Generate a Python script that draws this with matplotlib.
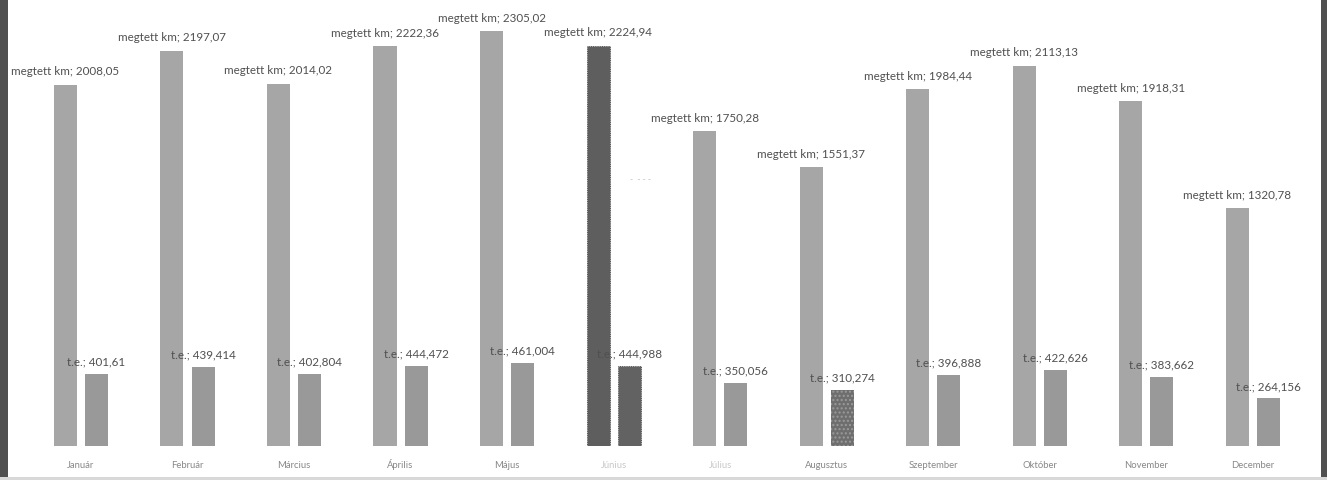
import matplotlib
matplotlib.use("Agg")
import matplotlib.pyplot as plt
from matplotlib.patches import Rectangle
import numpy as np

months = ["Január", "Február", "Március", "Április", "Május", "Június",
          "Július", "Augusztus", "Szeptember", "Október", "November", "December"]
km = [2008.05, 2197.07, 2014.02, 2222.36, 2305.02, 2224.94,
      1750.28, 1551.37, 1984.44, 2113.13, 1918.31, 1320.78]
te = [401.61, 439.414, 402.804, 444.472, 461.004, 444.988,
      350.056, 310.274, 396.888, 422.626, 383.662, 264.156]
km_labels = ["2008,05", "2197,07", "2014,02", "2222,36", "2305,02", "2224,94",
             "1750,28", "1551,37", "1984,44", "2113,13", "1918,31", "1320,78"]
te_labels = ["401,61", "439,414", "402,804", "444,472", "461,004", "444,988",
             "350,056", "310,274", "396,888", "422,626", "383,662", "264,156"]

plt.rcParams['font.family'] = ['Lato', 'DejaVu Sans']

W, H = 1327, 480
fig = plt.figure(figsize=(W / 100, H / 100), dpi=100)
fig.patch.set_facecolor("white")

# axes: x from px 8 to 1322, baseline at px 446 from top, top at 0
ax = fig.add_axes([8 / W, (H - 446) / H, (1322 - 8) / W, 446 / H])
ax.set_xlim(-0.685, 11.65)
ax.set_ylim(0, 2480)
ax.axis("off")

x = np.arange(len(months))
bw = 0.216
off = 0.146

c1 = ["#a6a6a6"] * 12
c2 = ["#999999"] * 12
c1[5] = "#5e5e5e"
c2[5] = "#626262"
b1 = ax.bar(x - off, km, width=bw, color=c1, linewidth=0)
b2 = ax.bar(x + off, te, width=bw, color=c2, linewidth=0)
# Június: dotted dark outline
for b in (b1[5], b2[5]):
    b.set_edgecolor("#3a3a3a")
    b.set_linestyle(":")
    b.set_linewidth(0.6)
# Augusztus t.e. bar: darker, textured
b2[7].set_facecolor("#6e6e6e")
b2[7].set_hatch("....")
b2[7].set_edgecolor("#9a9a9a")
b2[7].set_linewidth(0)

for i in range(12):
    ax.annotate(f"megtett km; {km_labels[i]}", (x[i] - off, km[i]),
                xytext=(0, 13), textcoords="offset pixels",
                ha="center", va="center", fontsize=8.4, color="#505050")
    ax.annotate(f"t.e.; {te_labels[i]}", (x[i] + off, te[i]),
                xytext=(0, 12), textcoords="offset pixels",
                ha="center", va="center", fontsize=8.4, color="#505050")
    mc = "#c8c8c8" if months[i] in ("Június", "Július") else "#888888"
    ax.annotate(months[i], (x[i], 0), xytext=(0, -19), textcoords="offset pixels",
                ha="center", va="center", fontsize=6.8, color=mc)

# faint hidden label near Június
ax.annotate("-  - - -", (x[5] + 0.25, 1480), ha="center", va="center",
            fontsize=6, color="#b0b0b0")

# scan frame
fig.add_artist(Rectangle((0, 0), 8 / W, 1, transform=fig.transFigure,
                         facecolor="#505050", edgecolor="none"))
fig.add_artist(Rectangle((1321 / W, 0), 6 / W, 1, transform=fig.transFigure,
                         facecolor="#505050", edgecolor="none"))
fig.add_artist(Rectangle((0, 0), 1, 3 / H, transform=fig.transFigure,
                         facecolor="#d8d8d8", edgecolor="none"))

fig.savefig("out.png", dpi=100, facecolor="white")
